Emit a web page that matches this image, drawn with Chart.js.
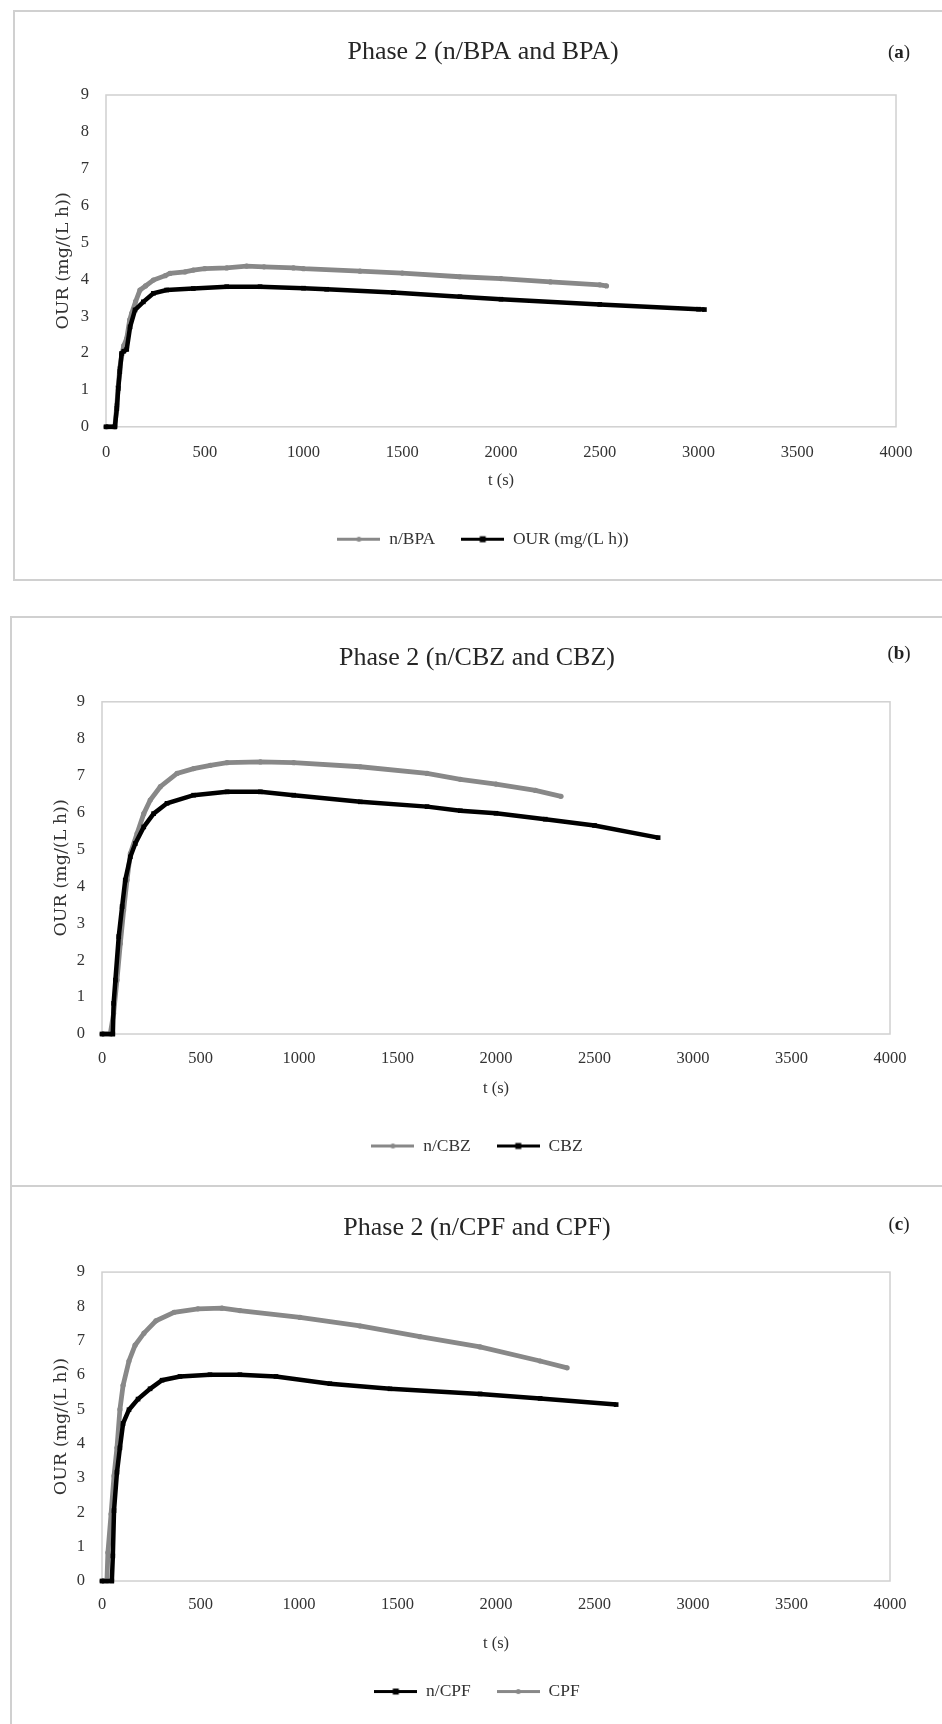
<!DOCTYPE html>
<html>
<head>
<meta charset="utf-8">
<script src="https://cdn.jsdelivr.net/npm/chart.js@4.4.1/dist/chart.umd.min.js"></script>
<style>
html, body { margin: 0; padding: 0; background: #fff; overflow: hidden; }
body { width: 942px; height: 1724px; position: relative; }
.panel { position: absolute; border: 2px solid #d0d0d0; box-sizing: border-box; }
canvas { position: absolute; left: 0; }
.tag { position: absolute; font-family: 'Liberation Serif', serif; font-size: 19px; color: #222; transform: translate(-50%, -50%); }
</style>
</head>
<body>
<div class="panel" style="left:13px;top:10px;width:1000px;height:571px"></div>
<div class="panel" style="left:10px;top:616px;width:1000px;height:571px"></div>
<div class="panel" style="left:10px;top:1185px;width:1000px;height:600px"></div>

<canvas id="chartA" width="966" height="569" style="top:10px"></canvas>
<canvas id="chartB" width="954" height="569" style="top:616px"></canvas>
<canvas id="chartC" width="954" height="539" style="top:1185px"></canvas>

<div class="tag" style="left:899px;top:52px">(<b>a</b>)</div>
<div class="tag" style="left:899px;top:653px">(<b>b</b>)</div>
<div class="tag" style="left:899px;top:1224px">(<b>c</b>)</div>

<script>
// axis ticks
const xTicks = [0, 500, 1000, 1500, 2000, 2500, 3000, 3500, 4000]
const yTicks = [0, 1, 2, 3, 4, 5, 6, 7, 8, 9]

// (a) n/BPA and BPA
const titleA = 'Phase 2 (n/BPA and BPA)'
const labelsA = ['n/BPA', 'OUR (mg/(L h))']
const tA1 = [0, 45, 55, 62, 70, 80, 90, 105, 120, 130, 150, 172, 200, 240, 300, 324, 400, 442, 500, 611, 712, 800, 949, 1000, 1286, 1500, 1792, 2000, 2250, 2500, 2534]
const vA1 = [0, 0, 0.6, 1.1, 1.6, 1.95, 2.2, 2.4, 2.9, 3.08, 3.4, 3.71, 3.82, 3.98, 4.1, 4.16, 4.2, 4.25, 4.29, 4.31, 4.36, 4.34, 4.31, 4.29, 4.22, 4.17, 4.07, 4.02, 3.93, 3.85, 3.82]
const tA2 = [0, 45, 55, 62, 70, 79, 90, 105, 122, 147, 189, 240, 307, 442, 611, 780, 1000, 1117, 1455, 1792, 2000, 2500, 3000, 3030]
const vA2 = [0, 0, 0.5, 1.04, 1.5, 1.99, 2.05, 2.1, 2.71, 3.17, 3.39, 3.62, 3.71, 3.75, 3.8, 3.8, 3.76, 3.73, 3.64, 3.53, 3.46, 3.32, 3.19, 3.18]

// (b) n/CBZ and CBZ
const titleB = 'Phase 2 (n/CBZ and CBZ)'
const labelsB = ['n/CBZ', 'CBZ']
const tB1 = [0, 42, 59, 76, 93, 110, 127, 144, 178, 212, 245, 296, 381, 465, 550, 635, 804, 973, 1311, 1650, 1819, 2000, 2200, 2330]
const vB1 = [0, 0, 0.56, 1.46, 2.45, 3.36, 4.17, 4.89, 5.43, 5.97, 6.34, 6.7, 7.06, 7.19, 7.28, 7.35, 7.37, 7.35, 7.24, 7.06, 6.9, 6.77, 6.6, 6.44]
const tB2 = [0, 55, 59, 68, 85, 102, 118, 144, 169, 212, 262, 330, 465, 635, 804, 973, 1311, 1650, 1819, 2000, 2250, 2500, 2823]
const vB2 = [0, 0, 0.83, 1.46, 2.64, 3.45, 4.17, 4.8, 5.16, 5.61, 5.97, 6.25, 6.47, 6.56, 6.56, 6.47, 6.29, 6.16, 6.05, 5.98, 5.82, 5.65, 5.32]

// (c) n/CPF and CPF
const titleC = 'Phase 2 (n/CPF and CPF)'
const labelsC = ['n/CPF', 'CPF']
const tC1 = [0, 50, 55, 61, 76, 91, 107, 137, 183, 244, 305, 396, 548, 700, 883, 1157, 1462, 1919, 2224, 2610]
const vC1 = [0, 0, 0.73, 2.05, 3.17, 3.88, 4.59, 4.99, 5.3, 5.6, 5.85, 5.96, 6.01, 6.01, 5.96, 5.75, 5.6, 5.45, 5.32, 5.14]
const tC2 = [0, 25, 30, 46, 61, 76, 91, 107, 137, 168, 213, 274, 366, 487, 609, 700, 1005, 1310, 1614, 1919, 2224, 2361]
const vC2 = [0, 0, 0.83, 1.95, 3.06, 3.88, 5.0, 5.7, 6.41, 6.87, 7.22, 7.58, 7.83, 7.93, 7.95, 7.88, 7.68, 7.43, 7.12, 6.82, 6.41, 6.21]

const FONT = "'Liberation Serif', 'Times New Roman', serif"
const TEXT = '#333'
const GREY = '#888'
const BLACK = '#000'

function pts(t, v) {
    return t.map((x, i) => ({ x: x, y: v[i] }))
}

// little line + marker picture for the legend
function legendIcon(color, square) {
    const c = document.createElement('canvas')
    c.width = 43
    c.height = 9
    const g = c.getContext('2d')
    g.strokeStyle = color
    g.lineWidth = 3
    g.beginPath()
    g.moveTo(0, 4.5)
    g.lineTo(43, 4.5)
    g.stroke()
    g.fillStyle = color
    if (square) {
        g.fillRect(18.5, 1.5, 6, 6)
    } else {
        g.beginPath()
        g.arc(21.5, 4.5, 2.5, 0, Math.PI * 2)
        g.fill()
    }
    return c
}

function greySet(label, data) {
    return { label: label, data: data, borderColor: GREY, backgroundColor: GREY, borderWidth: 4.8,
        pointStyle: 'circle', pointRadius: 2.6, pointBorderWidth: 0, tension: 0, clip: false, order: 2,
        icon: legendIcon(GREY, false) }
}
function blackSet(label, data) {
    return { label: label, data: data, borderColor: BLACK, backgroundColor: BLACK, borderWidth: 4.5,
        pointStyle: 'rect', pointRadius: 3.3, pointBorderWidth: 0, tension: 0, clip: false, order: 1,
        icon: legendIcon(BLACK, true) }
}

const framePlugin = {
    id: 'frame',
    beforeDatasetsDraw(chart) {
        const { ctx, chartArea: a } = chart
        ctx.save()
        ctx.strokeStyle = '#d0d0d0'
        ctx.lineWidth = 1.5
        ctx.strokeRect(a.left, a.top, a.width, a.height)
        ctx.restore()
    }
}

function makeChart(id, title, datasets, s) {
    const ctx = document.getElementById(id).getContext('2d')
    return new Chart(ctx, {
        type: 'line',
        data: { datasets: datasets },
        plugins: [framePlugin],
        options: {
            responsive: false,
            animation: false,
            events: [],
            layout: { padding: { left: 0, right: 0, top: 0, bottom: s.bottomPad } },
            scales: {
                x: {
                    type: 'linear', min: xTicks[0], max: xTicks[xTicks.length - 1],
                    afterBuildTicks: sc => { sc.ticks = xTicks.map(v => ({ value: v })) },
                    ticks: { padding: s.xTickPad, color: TEXT, font: { family: FONT, size: 16.5 },
                        callback: v => String(v) },
                    grid: { display: false, drawTicks: false },
                    border: { display: false },
                    title: { display: true, text: 't (s)', color: TEXT, font: { family: FONT, size: 16.5 },
                        padding: { top: 0, bottom: s.xTitleBottom } },
                    afterFit: sc => { sc.height = s.xHeight }
                },
                y: {
                    min: yTicks[0], max: yTicks[yTicks.length - 1],
                    afterBuildTicks: sc => { sc.ticks = yTicks.map(v => ({ value: v })) },
                    ticks: { padding: 17, color: TEXT, font: { family: FONT, size: 16.5 },
                        callback: v => String(v) },
                    grid: { display: false, drawTicks: false },
                    border: { display: false },
                    title: { display: true, text: 'OUR (mg/(L h))', color: TEXT,
                        font: { family: "'DejaVu Serif', serif", size: 17.5 },
                        padding: { top: s.yTitlePad, bottom: 0 } },
                    afterFit: sc => { sc.width = s.left }
                },
                y2: {
                    position: 'right', min: 0, max: 9,
                    ticks: { display: false },
                    grid: { display: false, drawTicks: false },
                    border: { display: false },
                    afterFit: sc => { sc.width = s.rightGap }
                }
            },
            plugins: {
                tooltip: { enabled: false },
                title: {
                    display: true, text: title, color: '#262626',
                    font: { family: FONT, size: 26, weight: 'normal' },
                    padding: { top: s.titleTop, bottom: s.titleBottom }
                },
                legend: {
                    position: 'bottom',
                    labels: {
                        usePointStyle: true, pointStyleWidth: 43, padding: 26,
                        color: TEXT, font: { family: FONT, size: 17.5 },
                        generateLabels: chart => chart.data.datasets.map((ds, i) => ({
                            text: ds.label, pointStyle: ds.icon, datasetIndex: i, fontColor: TEXT,
                            lineWidth: 0, strokeStyle: 'rgba(0,0,0,0)', fillStyle: 'rgba(0,0,0,0)'
                        }))
                    }
                }
            }
        }
    })
}

makeChart('chartA', titleA,
    [greySet(labelsA[0], pts(tA1, vA1)), blackSet(labelsA[1], pts(tA2, vA2))],
    { left: 106, rightGap: 70, titleTop: 26.4, titleBottom: 27.4, yTitlePad: 53,
      xTickPad: 16, xHeight: 77.7, xTitleBottom: 13.5, bottomPad: 21 })

makeChart('chartB', titleB,
    [greySet(labelsB[0], pts(tB1, vB1)), blackSet(labelsB[1], pts(tB2, vB2))],
    { left: 102, rightGap: 64, titleTop: 26.4, titleBottom: 28.2, yTitlePad: 51,
      xTickPad: 15, xHeight: 77.2, xTitleBottom: 12.3, bottomPad: 20.3 })

makeChart('chartC', titleC,
    [blackSet(labelsC[0], pts(tC1, vC1)), greySet(labelsC[1], pts(tC2, vC2))],
    { left: 102, rightGap: 64, titleTop: 27.9, titleBottom: 28, yTitlePad: 51,
      xTickPad: 14, xHeight: 75.8, xTitleBottom: 3.5, bottomPad: 13.7 })
</script>
</body>
</html>
